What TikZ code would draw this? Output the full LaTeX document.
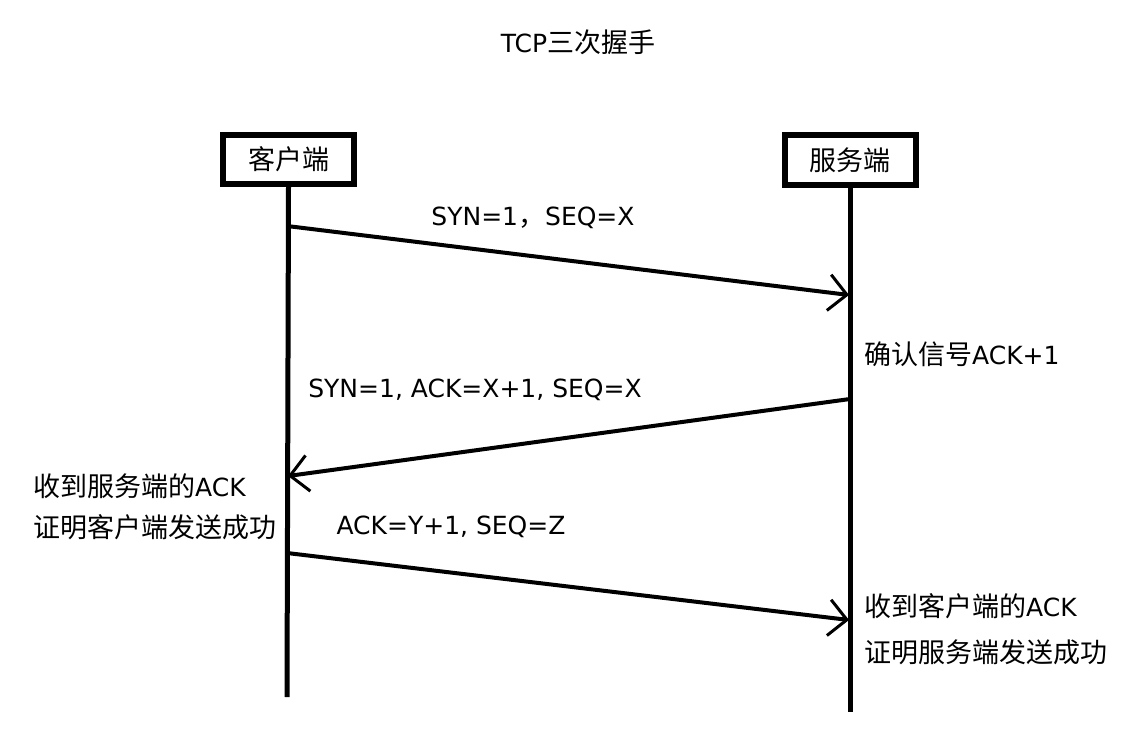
\documentclass[tikz,border=0pt]{standalone}
\usepackage{fontspec}
\setmainfont{DejaVu Sans}
\newfontfamily\cjk{Noto Sans CJK SC}[Scale=1.08]
\usetikzlibrary{arrows.meta}
\begin{document}
\begin{tikzpicture}[x=1pt,y=-1pt,
  every node/.style={font=\fontsize{25}{30}\selectfont, inner sep=0pt},
  actor/.style={draw, line width=6pt, minimum width=131pt, minimum height=49pt},
  life/.style={line width=5pt},
  msg/.style={line width=4pt, -{Straight Barb[length=18pt,width=36pt,line width=3pt]}},
  note/.style={anchor=west}]
\useasboundingbox (0,0) rectangle (1138,733);
\node (title) at (578,42) {TCP{\cjk 三次握手}};
\node[actor] (c) at (288.5,159.5) {\cjk 客户端};
\node[actor] (s) at (850,160) {\cjk 服务端};
\coordinate (cend) at (287,697);
\coordinate (send) at (850,712);
\draw[life] (c.south) -- (cend);
\draw[life] (s.south) -- (send);
\coordinate (c1) at (287,226);
\coordinate (s1) at (849,295);
\coordinate (s2) at (850,399);
\coordinate (c2) at (288,476);
\coordinate (c3) at (287,553);
\coordinate (s3) at (849,620);
\draw[msg] (c1) -- (s1);
\draw[msg] (s2) -- (c2);
\draw[msg] (c3) -- (s3);
\node (l1) at (533,218) {SYN=1{\cjk ，}SEQ=X};
\node[note] (l2) at (864,354) {{\cjk 确认信号}ACK+1};
\node (l3) at (475,390) {SYN=1, ACK=X+1, SEQ=X};
\node[note] (l4) at (33,486) {{\cjk 收到服务端的}ACK};
\node[note] (l5) at (33,527) {\cjk 证明客户端发送成功};
\node (l6) at (451,527) {ACK=Y+1, SEQ=Z};
\node[note] (l7) at (864,606) {{\cjk 收到客户端的}ACK};
\node[note] (l8) at (864,652) {\cjk 证明服务端发送成功};
\end{tikzpicture}
\end{document}
